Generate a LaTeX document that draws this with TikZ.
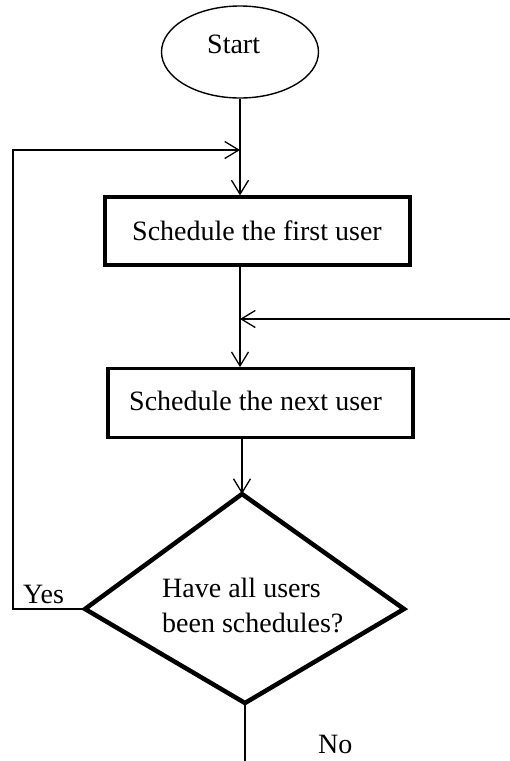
\documentclass[tikz,border=0pt]{standalone}
\usepackage{fontspec}
\setmainfont{Liberation Serif}
\usetikzlibrary{arrows.meta,shapes.geometric,calc}
\tikzset{
  txt/.style={font=\fontsize{28pt}{34pt}\selectfont, inner sep=0pt, anchor=base west},
  conn/.style={line width=1.3pt},
  arr/.style={conn, -{Straight Barb[length=14pt,width=17pt]}},
  procbox/.style={draw, minimum width=305pt, inner sep=0pt},
}
\begin{document}
\begin{tikzpicture}[x=1pt,y=-1pt]
\useasboundingbox[fill=white] (0,0) rectangle (510,761);
% start terminal
\node[draw, ellipse, line width=1.4pt, minimum width=157pt, minimum height=92pt, inner sep=0pt] (start) at (240,52) {};
\node[txt] (starttxt) at (207,53) {Start};
% process boxes
\node[procbox, line width=3.6pt, minimum height=67.5pt] (box1) at (257.5,231) {};
\node[txt] (box1txt) at (132,240) {Schedule the first user};
\node[procbox, line width=3.2pt, minimum height=68.5pt] (box2) at (260.5,403) {};
\node[txt] (box2txt) at (129,410) {Schedule the next user};
% decision
\coordinate (dT) at (242,494);
\coordinate (dR) at (404,609);
\coordinate (dB) at (245,703);
\coordinate (dL) at (85,609);
\draw[line width=4.5pt, line join=miter] (dT) -- (dR) -- (dB) -- (dL) -- cycle;
\node[txt] (q1) at (162,597) {Have all users};
\node[txt] (q2) at (162,632) {been schedules?};
% labels
\node[txt] (yes) at (23,603) {Yes};
\node[txt] (no) at (318,753) {No};
% helper coordinates
\coordinate (fbcorner) at (13,150);
\coordinate (j1) at (start.south |- fbcorner);
\coordinate (rin) at (510,319);
\coordinate (j2) at (j1 |- rin);
\coordinate (out) at (245,761);
% connectors
\draw[arr] (start.south) -- (start.south |- box1.north);
\draw[arr] (dL) -| (fbcorner) -- (j1);
\draw[arr] (box1.south -| j1) -- (box2.north -| j1);
\draw[arr] (rin) -- (j2);
\draw[arr] (box2.south -| dT) -- (dT);
\draw[conn] (dB) -- (out);
\end{tikzpicture}
\end{document}
